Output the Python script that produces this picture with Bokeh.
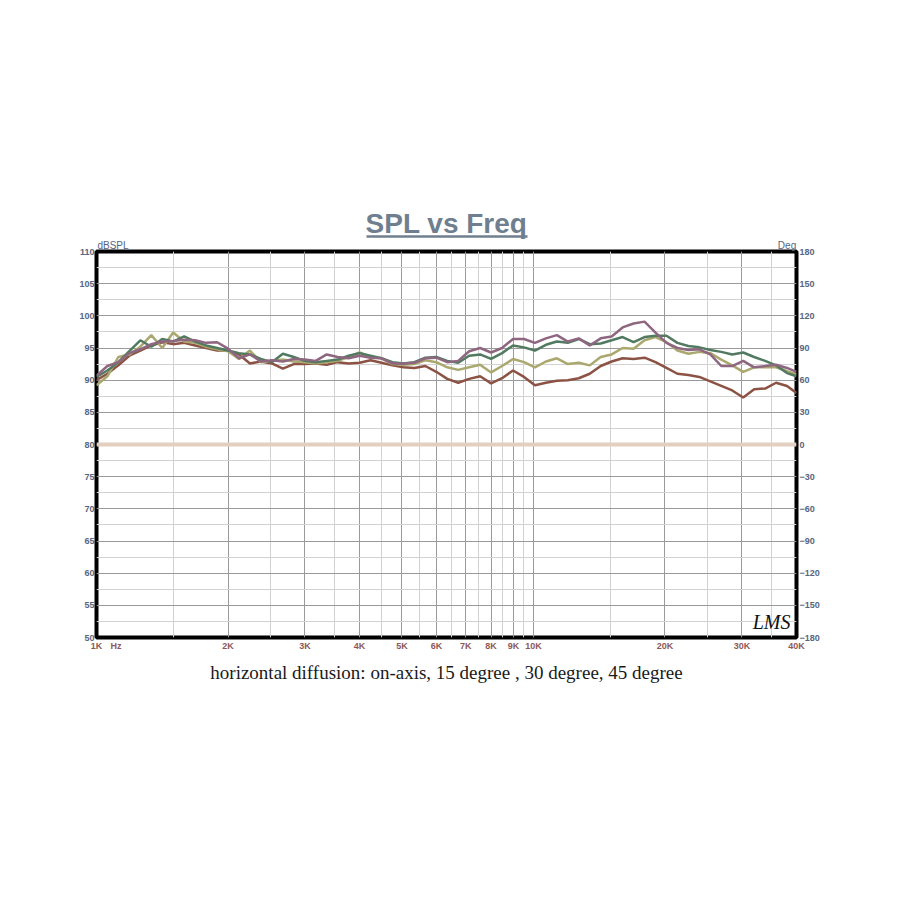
from bokeh.plotting import figure
from bokeh.models import (Range1d, LinearAxis, LogAxis, FixedTicker, Label, Title)
from bokeh.embed import file_html
from bokeh.resources import INLINE

# 1/12-octave frequency points (Hz)
freq = [1000, 1059, 1122, 1189, 1260, 1335, 1414, 1498, 1587, 1682, 1782, 1888,
        2000, 2119, 2245, 2378, 2520, 2670, 2828, 2997, 3175, 3364, 3564, 3775,
        4000, 4238, 4490, 4757, 5040, 5339, 5657, 5993, 6350, 6727, 7127, 7551,
        8000, 8476, 8980, 9514, 10079, 10679, 11314, 11986, 12699, 13454, 14254, 15102,
        16000, 16951, 17959, 19027, 20159, 21357, 22627, 23973, 25398, 26909, 28509, 30204,
        32000, 33903, 35919, 38055, 40000]

on_axis = [90.7, 92.2, 92.8, 94.2, 94.8, 95.6, 96.0, 96.1, 96.3, 96.2, 95.8, 95.9,
           94.9, 93.4, 94.0, 92.9, 93.1, 92.9, 93.3, 93.2, 93.0, 94.0, 93.6, 93.4,
           93.8, 93.5, 93.4, 92.6, 92.6, 92.7, 93.4, 93.5, 92.8, 93.0, 94.5, 95.0,
           94.3, 95.0, 96.4, 96.4, 95.8, 96.5, 97.0, 96.0, 96.5, 95.4, 96.5, 96.8,
           98.2, 98.8, 99.1, 97.4, 95.8, 95.0, 94.7, 94.8, 94.0, 92.2, 92.2, 93.0,
           92.0, 92.2, 92.4, 91.9, 91.3]

deg15 = [90.5, 91.5, 92.8, 94.5, 96.2, 95.2, 96.4, 96.0, 96.8, 96.0, 95.4, 95.0,
         94.6, 94.2, 94.0, 93.3, 92.8, 94.1, 93.6, 93.0, 92.8, 93.0, 93.2, 93.8,
         94.2, 93.8, 93.4, 92.8, 92.6, 92.8, 93.5, 93.6, 93.0, 92.7, 93.8, 94.0,
         93.3, 94.2, 95.4, 95.1, 94.6, 95.5, 96.0, 95.8, 96.4, 95.6, 95.7, 96.2,
         96.7, 95.9, 96.7, 96.9, 96.9, 95.8, 95.3, 95.1, 94.7, 94.4, 94.0, 94.3,
         93.6, 93.0, 92.3, 91.1, 90.6]

deg30 = [89.2, 90.6, 93.6, 94.0, 95.2, 97.0, 95.0, 97.4, 96.0, 95.8, 95.2, 94.8,
         94.5, 93.3, 94.6, 92.8, 93.0, 93.2, 92.9, 92.8, 92.6, 92.8, 93.0, 93.6,
         94.3, 93.6, 93.4, 92.5, 92.4, 92.5, 93.1, 92.8, 92.0, 91.6, 92.0, 92.4,
         91.2, 92.2, 93.3, 92.8, 92.0, 92.9, 93.4, 92.5, 92.7, 92.3, 93.6, 94.0,
         95.0, 94.9, 96.2, 96.7, 95.9, 94.6, 94.1, 94.4, 94.2, 93.2, 92.3, 91.3,
         92.0, 92.0, 92.0, 91.4, 90.9]

deg45 = [90.0, 91.0, 92.3, 93.8, 94.6, 95.4, 95.9, 95.6, 95.8, 95.4, 95.0, 94.6,
         94.6, 94.0, 92.6, 92.9, 92.6, 91.8, 92.5, 92.5, 92.6, 92.4, 92.8, 92.6,
         92.7, 93.1, 92.7, 92.3, 92.0, 91.9, 92.2, 91.3, 90.2, 89.6, 90.2, 90.6,
         89.5, 90.3, 91.5, 90.5, 89.2, 89.6, 89.9, 90.0, 90.3, 91.0, 92.2, 92.9,
         93.4, 93.3, 93.5, 92.8, 91.9, 91.0, 90.8, 90.5, 89.8, 89.1, 88.4, 87.3,
         88.6, 88.7, 89.6, 89.1, 88.0]

phase_freq = [1000, 40000]
phase_deg = [0, 0]

spl_ticks = [50, 55, 60, 65, 70, 75, 80, 85, 90, 95, 100, 105, 110]
spl_minor = [52.5, 57.5, 62.5, 67.5, 72.5, 77.5, 82.5, 87.5, 92.5, 97.5, 102.5, 107.5]
deg_ticks = [-180, -150, -120, -90, -60, -30, 0, 30, 60, 90, 120, 150, 180]
freq_ticks = [1000, 2000, 3000, 4000, 5000, 6000, 7000, 8000, 9000, 10000, 20000, 30000, 40000]
freq_labels = ["1K", "2K", "3K", "4K", "5K", "6K", "7K", "8K", "9K", "10K", "20K", "30K", "40K"]
freq_minor = [1500, 2500, 3500, 4500, 5500, 6500, 7500, 8500, 9500, 15000, 25000, 35000]

title_text = "SPL vs Freq"
caption_text = "horizontal diffusion: on-axis, 15 degree , 30 degree, 45 degree"
unit_left, unit_right, unit_x = "dBSPL", "Deg", "Hz"

LEFT_COL = "#56667f"
BOT_COL = "#8e5858"
TITLE_COL = "#6f7f8f"

p = figure(x_axis_type="log", x_range=Range1d(1000, 40000), y_range=Range1d(50, 110),
           frame_width=700, frame_height=386, output_backend="svg", toolbar_location=None,
           min_border_left=96, min_border_right=96, min_border_top=251, min_border_bottom=80)
p.extra_y_ranges = {"deg": Range1d(-180, 180)}

p.title.text = title_text
p.title.align = "center"
p.title.text_font = "Liberation Sans"
p.title.text_font_size = "28px"
p.title.text_font_style = "bold"
p.title.text_color = TITLE_COL
p.title.standoff = -4

p.outline_line_color = "black"
p.outline_line_width = 4
p.background_fill_color = "white"
p.border_fill_color = "white"

# main axes
bottom = p.below[0]
left = p.left[0]
left.ticker = FixedTicker(ticks=spl_ticks)
bottom.ticker = FixedTicker(ticks=freq_ticks + [1108])
bottom.major_label_overrides = dict(list(zip(freq_ticks, freq_labels)) + [(1108, unit_x)])

right = LinearAxis(y_range_name="deg", ticker=FixedTicker(ticks=deg_ticks))
p.add_layout(right, "right")

# unit labels row above the frame
units = LogAxis(ticker=FixedTicker(ticks=[1091, 38050]),
                major_label_overrides={1091: unit_left, 38050: unit_right})
p.add_layout(units, "above")
# title underline
uline = LogAxis(ticker=FixedTicker(ticks=[]), bounds=(4140, 9667))
p.add_layout(uline, "above")

for ax in [left, right, bottom, units, uline]:
    ax.axis_line_color = None
    ax.major_tick_line_color = None
    ax.minor_tick_line_color = None
    ax.major_tick_out = 0
    ax.major_tick_in = 0
    ax.minor_tick_out = 0
    ax.minor_tick_in = 0
    ax.major_label_text_font = "Liberation Sans"
    ax.major_label_text_font_size = "9px"
    ax.major_label_text_font_style = "bold"
    ax.major_label_standoff = 2
left.major_label_text_color = LEFT_COL
right.major_label_text_color = LEFT_COL
right.major_label_standoff = 3
bottom.major_label_text_color = BOT_COL
bottom.major_label_standoff = 3
units.major_label_text_color = LEFT_COL
units.major_label_text_font_style = "normal"
units.major_label_text_font_size = "10px"
units.major_label_standoff = 1
uline.axis_line_color = TITLE_COL
uline.axis_line_width = 2.5
uline.major_label_standoff = 0

p.xgrid.ticker = FixedTicker(ticks=freq_ticks, minor_ticks=freq_minor)
p.ygrid.ticker = FixedTicker(ticks=spl_ticks, minor_ticks=spl_minor)
for g in [p.xgrid[0], p.ygrid[0]]:
    g.grid_line_color = "#9a9a9a"
    g.grid_line_width = 1
    g.minor_grid_line_color = "#d2d2d2"
    g.minor_grid_line_width = 1

# phase trace (flat 0 deg)
p.line(phase_freq, phase_deg, y_range_name="deg", line_color="#e2cfc0", line_width=4)

# SPL traces
p.line(freq, deg45, line_color="#8c5244", line_width=2.5)
p.line(freq, deg30, line_color="#aaa86e", line_width=2.5)
p.line(freq, deg15, line_color="#517a60", line_width=2.5)
p.line(freq, on_axis, line_color="#8f6680", line_width=2.5)

p.add_layout(Label(x=40000, y=50, text="LMS", x_offset=-6, y_offset=5, text_align="right",
                   text_font="Liberation Serif", text_font_size="20px", text_font_style="italic",
                   text_color="#111111"))

cap = Title(text=caption_text, align="center", text_font="Liberation Serif",
            text_font_size="19px", text_font_style="normal", text_color="#1a1a1a",
            standoff=12)
p.add_layout(cap, "below")

open("out.html", "w").write(file_html(p, INLINE))
